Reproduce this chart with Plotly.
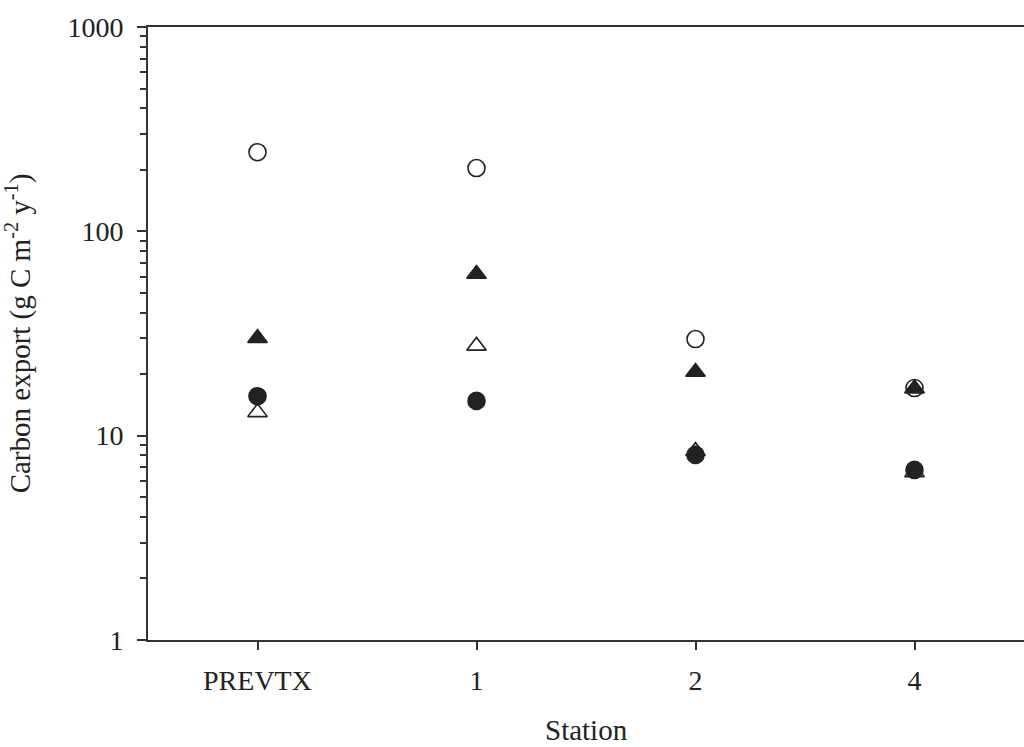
import plotly.graph_objects as go

stations = ["PREVTX", "1", "2", "4"]
open_circle = [244, 204, 29.7, 17.1]
filled_triangle = [30, 61.8, 20.5, 17.0]
open_triangle = [13, 27.5, 8.4, 6.6]
filled_circle = [15.6, 14.8, 8.05, 6.8]

xpos = list(range(len(stations)))
ink = "#222222"
fig = go.Figure()

def add(vals, symbol, fill):
    fig.add_trace(go.Scatter(
        x=xpos, y=vals, mode="markers",
        marker=dict(symbol=symbol, size=17,
                    color=fill, line=dict(color=ink, width=1.6)),
        showlegend=False, cliponaxis=False))

add(open_circle, "circle", "white")
add(open_triangle, "triangle-up", "white")
add(filled_triangle, "triangle-up", ink)
add(filled_circle, "circle", ink)

font = dict(family="Liberation Serif, Times New Roman, serif", size=28, color=ink)
tfont = dict(family="Liberation Serif, Times New Roman, serif", size=29, color=ink)
fig.update_layout(
    width=1024, height=747,
    margin=dict(l=148, r=0, t=27, b=107),
    plot_bgcolor="white", paper_bgcolor="white",
    font=font,
    xaxis=dict(range=[-0.5, 3.5], tickvals=xpos, ticktext=stations,
               showgrid=False, zeroline=False, showline=True, linecolor="#333333",
               linewidth=2, mirror=True, ticks="outside", ticklen=8, tickwidth=2,
               tickcolor="#333333", tickfont=font, ticklabelstandoff=6,
               automargin=False),
    yaxis=dict(type="log", range=[0, 3], tickvals=[1, 10, 100, 1000],
               ticktext=["1", "10", "100", "1000"],
               showgrid=False, zeroline=False, showline=True, linecolor="#333333",
               linewidth=2, ticks="outside", ticklen=9, tickwidth=2, tickcolor="#333333",
               tickfont=font, ticklabelstandoff=8, automargin=False,
               minor=dict(ticks="outside", ticklen=6, tickwidth=2, tickcolor="#333333",
                          dtick="D1", showgrid=False),
               title=dict(text="Carbon export (g C m<sup>-2</sup> y<sup>-1</sup>)",
                          font=tfont, standoff=28)),
    annotations=[dict(text="Station", xref="paper", yref="paper", x=0.5, y=0,
                      xanchor="center", yanchor="bottom", yshift=-107, borderpad=0,
                      showarrow=False, font=tfont)],
)
fig.write_html("out.html")
